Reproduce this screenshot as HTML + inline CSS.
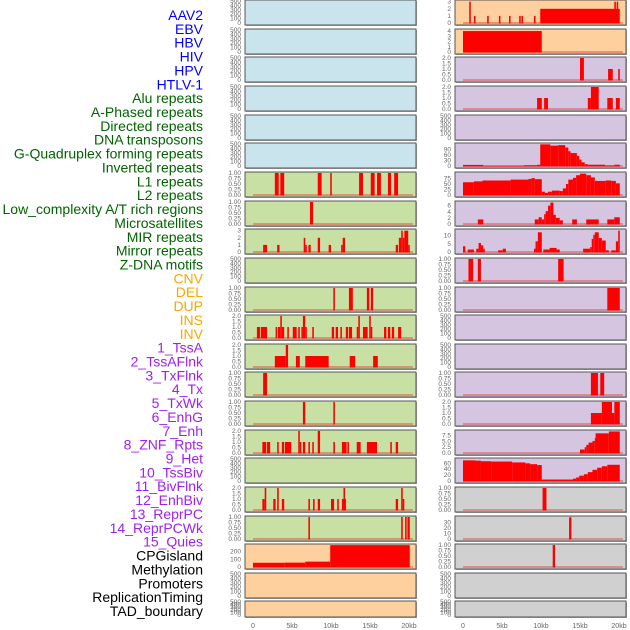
<!DOCTYPE html>
<html><head><meta charset="utf-8"><style>
html,body{margin:0;padding:0;background:#fff;}
svg{display:block;font-family:"Liberation Sans",sans-serif;}
</style></head><body>
<svg id="chart" width="630" height="630" viewBox="0 0 630 630" xmlns="http://www.w3.org/2000/svg"></svg>
<script>
// ---------- data ----------
const trackLabels = ["AAV2","EBV","HBV","HIV","HPV","HTLV-1","Alu repeats","A-Phased repeats","Directed repeats","DNA transposons","G-Quadruplex forming repeats","Inverted repeats","L1 repeats","L2 repeats","Low_complexity A/T rich regions","Microsatellites","MIR repeats","Mirror repeats","Z-DNA motifs","CNV","DEL","DUP","INS","INV","1_TssA","2_TssAFlnk","3_TxFlnk","4_Tx","5_TxWk","6_EnhG","7_Enh","8_ZNF_Rpts","9_Het","10_TssBiv","11_BivFlnk","12_EnhBiv","13_ReprPC","14_ReprPCWk","15_Quies","CPGisland","Methylation","Promoters","ReplicationTiming","TAD_boundary"];
const labelColors = ["#0000ff","#0000ff","#0000ff","#0000ff","#0000ff","#0000ff","#006400","#006400","#006400","#006400","#006400","#006400","#006400","#006400","#006400","#006400","#006400","#006400","#006400","#ffa500","#ffa500","#ffa500","#ffa500","#ffa500","#a020f0","#a020f0","#a020f0","#a020f0","#a020f0","#a020f0","#a020f0","#a020f0","#a020f0","#a020f0","#a020f0","#a020f0","#a020f0","#a020f0","#a020f0","#000000","#000000","#000000","#000000","#000000"];
const xTickValues = [0,5,10,15,20];
const xTickLabels = ["0","5kb","10kb","15kb","20kb"];

const T500 = ["0","100","200","300","400","500"];
const T1 = ["0.00","0.25","0.50","0.75","1.00"];
const T2 = ["0.0","0.5","1.0","1.5","2.0"];

const leftBg = ["blue","blue","blue","blue","blue","blue","green","green","green","green","green","green","green","green","green","green","green","green","green","orange","orange","orange"];
const leftYmax = [500,500,500,500,500,500,1,1,3.1,500,1,2,2,1,1,2,500,2,1,287,500,500];
const leftTicks = [T500,T500,T500,T500,T500,T500,T1,T1,["0","1","2","3"],T500,T1,T2,T2,T1,T1,T2,T500,T2,T1,["0","100","200"],T500,T500];
const leftSegs = [
 [],[],[],[],[],[],
 [[2.8,3.3,1],[3.5,4.0,1],[8.3,8.8,1],[9.9,10.1,1],[13.6,14.1,1],[15.1,15.6,1],[15.9,16.4,1],[17.3,17.7,1],[18.1,18.6,1]],
 [[7.3,7.7,1]],
 [[1.3,1.8,1],[3.1,3.4,1],[6.5,6.7,2],[6.7,6.9,1],[7.1,7.4,1],[8.3,8.6,2],[9.7,10.0,1],[11.3,11.5,1],[11.5,11.8,2],[18.3,18.6,1],[18.7,19.0,2],[19.0,19.2,3],[19.2,19.4,2],[19.4,19.9,3],[19.9,20.1,1]],
 [],
 [[10.3,10.5,1],[12.3,12.8,1],[14.6,14.9,1],[15.1,15.4,1]],
 [[0.5,0.9,1],[1.0,1.8,1],[2.9,3.1,1],[3.2,3.5,1],[3.5,3.7,2],[3.7,4.0,1],[4.4,4.6,1],[5.1,5.6,1],[5.8,6.0,1],[6.2,6.4,1],[6.4,6.7,2],[6.7,6.9,1],[7.6,7.8,1],[10.1,10.4,1],[10.6,10.9,1],[11.2,11.4,1],[11.9,12.2,1],[12.3,12.7,1],[13.3,13.5,1],[13.5,13.7,2],[14.1,14.7,1],[14.9,15.1,2],[15.1,15.3,1],[16.8,17.1,1],[17.3,17.6,1],[17.8,18.1,1],[18.6,19.0,1]],
 [[2.8,4.2,1],[4.2,4.5,2],[5.5,6.0,1],[6.7,9.7,1],[12.4,13.1,1],[15.4,16.0,1]],
 [[1.3,1.8,1]],
 [[6.4,6.7,1],[10.3,10.5,1]],
 [[1.2,1.7,1],[1.8,2.2,1],[3.1,3.3,1],[3.7,4.0,1],[4.1,4.9,1],[5.8,6.0,2],[6.0,6.2,1],[6.4,6.7,1],[7.1,7.3,1],[7.6,7.8,1],[8.3,8.6,2],[10.3,10.5,1],[11.4,12.0,1],[12.1,12.3,1],[13.3,13.8,1],[14.6,15.9,1],[17.6,17.8,1],[18.3,18.6,1]],
 [],
 [[1.2,1.5,1],[1.5,1.7,2],[2.6,2.9,1],[3.1,3.3,2],[3.7,4.0,1],[7.1,7.3,1],[7.7,7.9,1],[8.3,8.6,1],[10.0,10.4,1],[10.8,11.0,1],[11.4,11.6,1],[11.6,11.8,2],[11.8,11.9,1],[18.3,18.6,1],[19.0,19.2,2],[19.2,19.4,1]],
 [[7.1,7.3,1],[19.0,19.2,1],[19.5,19.7,1],[19.8,20.1,1]],
 [[0,4.0,55],[4.0,6.7,57],[6.7,9.9,70],[9.9,20.1,285]],
 [],[]
];

const rightBg = ["orange","orange","purple","purple","purple","purple","purple","purple","purple","purple","purple","purple","purple","purple","purple","purple","purple","gray","gray","gray","gray","gray"];
const rightYmax = [3.1,4.2,2,2,500,119,100,7.2,13.4,1,1,500,500,1,2,9.5,74.6,1,39.6,1,500,500];
const rightTicks = [["0","1","2","3"],["0","1","2","3","4"],T2,T2,T500,["0","30","60","90"],["0","25","50","75"],["0","2","4","6"],["0","5","10"],T1,T1,T500,T500,T1,T2,["0.0","2.5","5.0","7.5"],["0","20","40","60"],T1,["0","10","20","30"],T1,T500,T500];
const rightSegs = [
 [[0.8,1.0,3],[1.4,1.6,1],[3.1,3.3,1],[4.6,4.8,1],[5.9,6.1,1],[7.2,7.4,1],[7.5,7.7,1],[9.1,9.3,1],[9.9,20.1,2],[19.4,19.6,3],[19.7,19.9,3]],
 [[0,10.1,4]],
 [[15.0,15.5,2],[18.6,19.2,1],[19.9,20.1,1]],
 [[9.5,10.1,1],[10.4,10.9,1],[16.0,16.4,1],[16.4,17.4,2],[18.5,19.2,1],[19.6,20.1,1]],
 [],
 [[0,2.6,6],[2.6,7.8,1],[7.8,9.5,4],[9.5,9.9,7],[9.9,11.2,117],[11.2,12.2,110],[12.2,13.1,113],[13.1,13.5,100],[13.5,13.8,80],[13.8,14.6,70],[14.6,14.9,55],[14.9,15.2,35],[15.2,15.6,20],[15.6,16.0,10],[16.0,18.2,7],[18.2,19.4,3],[19.4,20.1,7]],
 [[0,1.4,58],[1.4,2.5,62],[2.5,6.1,66],[6.1,8.4,70],[8.4,8.8,73],[8.8,9.2,77],[9.2,10.1,72],[10.1,10.5,15],[10.5,10.9,10],[10.9,11.4,15],[11.4,12.4,20],[12.4,12.8,18],[12.8,13.2,30],[13.2,13.5,50],[13.5,14.1,70],[14.1,14.5,78],[14.5,15.0,90],[15.0,15.8,97],[15.8,16.4,90],[16.4,16.9,80],[16.9,18.3,64],[18.3,19.0,66],[19.0,19.6,64],[19.6,20.1,53]],
 [[1.9,2.6,1.5],[9.2,9.7,1.5],[9.7,10.1,2.2],[10.1,10.4,1.5],[10.4,10.6,3.2],[10.6,10.9,4.2],[10.9,11.2,6],[11.2,11.6,7],[11.6,11.9,3],[11.9,12.4,2],[12.4,12.8,1.2],[14.0,14.6,1.5],[15.8,17.4,1.5],[18.5,19.4,1.5],[19.4,20.1,2.2]],
 [[0,0.3,3.5],[0.6,1.4,1.5],[1.7,2.0,2],[2.0,2.3,5.5],[2.3,2.6,4],[2.6,2.8,2],[4.5,5.1,1],[5.1,5.5,2],[9.1,9.3,2],[9.3,9.6,6.5],[9.6,10.1,12],[10.3,11.1,1.5],[11.1,12.0,2.5],[12.0,12.4,1.5],[15.4,16.3,2],[16.3,16.5,3],[16.5,16.7,8],[16.7,16.9,10.5],[16.9,17.4,12],[17.4,17.8,8.5],[17.8,18.3,7],[18.3,18.7,1],[19.0,19.6,1],[19.6,19.9,6.5],[19.9,20.1,13]],
 [[0.7,1.3,1],[1.9,2.3,1],[12.2,12.9,1]],
 [[18.5,20.1,1]],
 [],[],
 [[16.4,17.3,1],[17.6,18.1,1]],
 [[16.4,17.8,1],[17.8,19.1,2],[19.1,19.4,1],[19.4,20.1,2]],
 [[15.0,15.6,1.5],[15.6,15.8,2.5],[15.8,16.1,3.5],[16.1,16.6,4.5],[16.6,16.9,5.2],[16.9,17.0,6.5],[17.0,18.7,8.5],[18.7,20.1,9.3]],
 [[0,1.6,70],[1.6,2.3,69],[2.3,3.6,67],[3.6,6.3,66],[6.3,8.0,63],[8.0,8.6,60],[8.6,9.5,57],[9.5,10.1,54],[10.1,14.1,5],[14.1,14.5,8],[14.5,14.9,12],[14.9,15.5,18],[15.5,16.0,23],[16.0,16.6,30],[16.6,17.2,38],[17.2,17.8,45],[17.8,18.5,50],[18.5,20.1,55]],
 [[10.2,10.7,1]],
 [[13.6,13.9,39]],
 [[11.5,11.8,1]],
 [],[]
];

// ---------- drawing ----------
const NS = "http://www.w3.org/2000/svg";
const svg = document.getElementById("chart");
const bgColors = {blue:"#c9e4ec",green:"#c8e0a3",orange:"#fdd09d",purple:"#d5c5e1",gray:"#d0d0d0"};
function el(tag, attrs, parent){
  const e = document.createElementNS(NS, tag);
  for (const k in attrs) e.setAttribute(k, attrs[k]);
  (parent||svg).appendChild(e);
  return e;
}
function rowTop(i){ return i===21 ? 601 : Math.round(i*28.65); }
function rowH(i){ return i===21 ? 16 : 25; }

// labels
trackLabels.forEach((t,i)=>{
  const tx = el("text",{x:203,y:(20+i*13.86).toFixed(1),"text-anchor":"end","font-size":"14",fill:labelColors[i]});
  
  
  tx.textContent = t;
});

function drawColumn(px, bgs, ymaxs, ticks, segs, side){
  const xs = kb => px + 8 + kb*7.8;
  bgs.forEach((bg,i)=>{
    const top = rowTop(i), h = rowH(i);
    const g = el("g",{});
    
    
    el("rect",{x:px+1,y:top+1,width:171,height:h,fill:"#aaa"},g);
    const r = el("rect",{x:px,y:top,width:171,height:h,fill:bgColors[bg],stroke:"#555","stroke-width":1},g);
    
    
    const y0 = top + h - 2, span = h - 3;
    const ys = v => y0 - v/ymaxs[i]*span;
    ticks[i].forEach(tl=>{
      const v = parseFloat(tl);
      const t = el("text",{x:px-4,y:(ys(v)+2).toFixed(1),"text-anchor":"end","font-size":"6.5",fill:"#666"},g);
      
      
      t.textContent = tl;
    });
    if (segs[i].length){
      const bl = el("line",{x1:xs(0),x2:xs(20.5),y1:y0,y2:y0,stroke:"rgba(230,60,60,0.6)","stroke-width":1.5},g);
      
      
    }
    segs[i].forEach(s=>{
      const yt = Math.max(ys(s[2]), top+0.5);
      const b = el("rect",{x:xs(s[0]).toFixed(2),y:yt.toFixed(2),width:Math.max(xs(s[1])-xs(s[0]),1).toFixed(2),height:(y0+0.5-yt).toFixed(2),fill:"#ff0000"},g);
      
      
    });
  });
  xTickValues.forEach((v,k)=>{
    const t = el("text",{x:xs(v),y:628,"text-anchor":"middle","font-size":"7",fill:"#666"});
    
    
    t.textContent = xTickLabels[k];
  });
}
drawColumn(245, leftBg, leftYmax, leftTicks, leftSegs, "left");
drawColumn(455, rightBg, rightYmax, rightTicks, rightSegs, "right");
</script>
</body></html>
